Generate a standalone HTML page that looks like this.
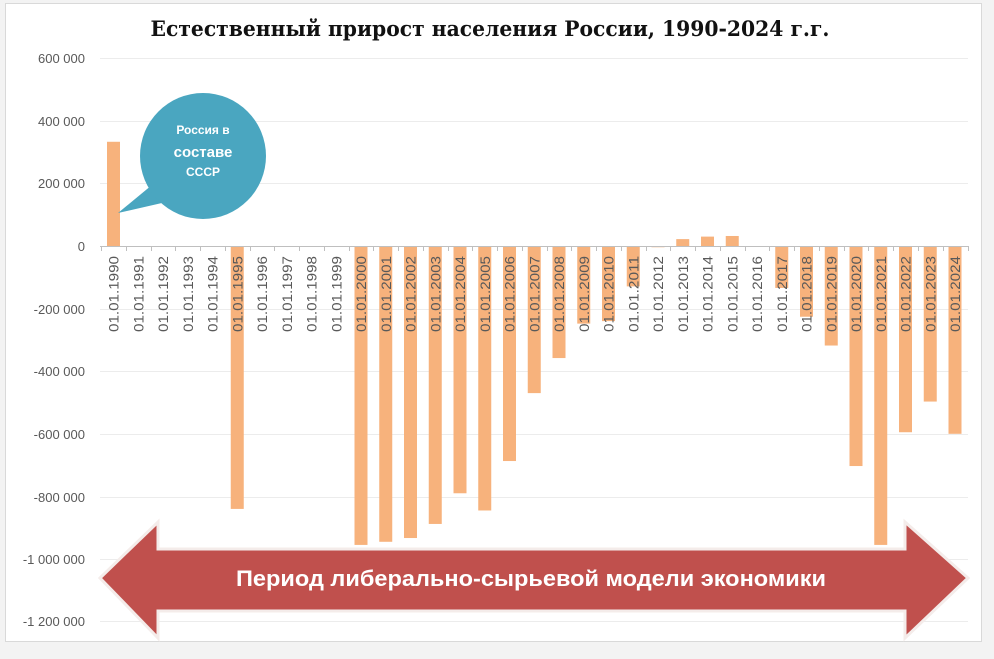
<!DOCTYPE html>
<html><head><meta charset="utf-8"><style>
html,body{margin:0;padding:0;background:#f3f3f3;}
svg{display:block;}
</style></head><body>
<svg width="994" height="659" viewBox="0 0 994 659" xmlns="http://www.w3.org/2000/svg">
<rect x="0" y="0" width="994" height="659" fill="#f3f3f3"/>
<rect x="5.5" y="3.5" width="976" height="638" fill="#fff" stroke="#d9d9d9"/>
<text x="490" y="36" text-anchor="middle" font-family="DejaVu Serif, Liberation Serif, serif" font-weight="bold" font-size="21" fill="#111" textLength="679" lengthAdjust="spacingAndGlyphs">Естественный прирост населения России, 1990-2024 г.г.</text>
<g stroke="#ececec" stroke-width="1">
<line x1="100" x2="968" y1="58.5" y2="58.5"/>
<line x1="100" x2="968" y1="121.5" y2="121.5"/>
<line x1="100" x2="968" y1="183.5" y2="183.5"/>
<line x1="100" x2="968" y1="309.5" y2="309.5"/>
<line x1="100" x2="968" y1="371.5" y2="371.5"/>
<line x1="100" x2="968" y1="434.5" y2="434.5"/>
<line x1="100" x2="968" y1="497.5" y2="497.5"/>
<line x1="100" x2="968" y1="559.5" y2="559.5"/>
<line x1="100" x2="968" y1="621.5" y2="621.5"/>
</g>
<g font-family="Liberation Sans, DejaVu Sans, sans-serif" font-size="13" fill="#595959" text-anchor="end">
<text x="85" y="63">600 000</text>
<text x="85" y="126">400 000</text>
<text x="85" y="188">200 000</text>
<text x="85" y="251">0</text>
<text x="85" y="314">-200 000</text>
<text x="85" y="376">-400 000</text>
<text x="85" y="439">-600 000</text>
<text x="85" y="502">-800 000</text>
<text x="85" y="564">-1 000 000</text>
<text x="85" y="626">-1 200 000</text>
</g>
<g fill="#f7b27c" id="bars"></g>
<line x1="100" x2="968" y1="246.5" y2="246.5" stroke="#bfbfbf"/>
<g id="ticks" stroke="#bfbfbf"></g>
<g id="labels" font-family="Liberation Sans, DejaVu Sans, sans-serif" font-size="14" fill="#595959"></g>
<!-- callout -->
<path d="M118 213 L158 180 L175 200 Z" fill="#4aa6c0"/>
<circle cx="203" cy="156" r="63" fill="#4aa6c0"/>
<g font-family="Liberation Sans, DejaVu Sans, sans-serif" font-weight="bold" fill="#fff" text-anchor="middle">
<text x="203" y="134" font-size="12">Россия в</text>
<text x="203" y="157" font-size="15">составе</text>
<text x="203" y="176" font-size="12">СССР</text>
</g>
<!-- arrow -->
<path d="M100 578 L158 522 L158 549 L905 549 L905 522 L968 578 L905 638 L905 611 L158 611 L158 638 Z" fill="#c0504d" stroke="#f4ecea" stroke-width="3" stroke-linejoin="miter"/>
<text x="531" y="586" text-anchor="middle" font-family="Liberation Sans Narrow, Liberation Sans, DejaVu Sans, sans-serif" font-weight="bold" font-size="22" fill="#fff" textLength="590" lengthAdjust="spacingAndGlyphs">Период либерально-сырьевой модели экономики</text>
<script>
var v={1990:333000,1995:-840000,2000:-955000,2001:-945000,2002:-933000,2003:-888000,2004:-790000,2005:-845000,2006:-687000,2007:-470000,2008:-358000,2009:-248000,2010:-240000,2011:-129000,2012:-4000,2013:22000,2014:30000,2015:32000,2016:-2000,2017:-134000,2018:-226000,2019:-318000,2020:-703000,2021:-955000,2022:-595000,2023:-497000,2024:-600000};
var ns="http://www.w3.org/2000/svg",b=document.getElementById('bars'),t=document.getElementById('ticks'),l=document.getElementById('labels');
var s=62.6/200000;
for(var i=0;i<35;i++){var y=1990+i,cx=113.5+i*24.75;
var val=v[y]||0;
if(val){var r=document.createElementNS(ns,'rect');var h=Math.abs(val)*s;r.setAttribute('x',cx-6.5);r.setAttribute('width',13);r.setAttribute('y',val>0?246-h:246);r.setAttribute('height',h);b.appendChild(r);}
var k=document.createElementNS(ns,'line');var tx=Math.round(cx-12.4)+0.5;k.setAttribute('x1',tx);k.setAttribute('x2',tx);k.setAttribute('y1',246);k.setAttribute('y2',251);t.appendChild(k);
var tt=document.createElementNS(ns,'text');tt.setAttribute('transform','translate('+(cx+5)+',256) rotate(-90)');tt.setAttribute('text-anchor','end');tt.setAttribute('textLength','76');tt.setAttribute('lengthAdjust','spacingAndGlyphs');tt.textContent='01.01.'+y;l.appendChild(tt);}
var k2=document.createElementNS(ns,'line');k2.setAttribute('x1',968.5);k2.setAttribute('x2',968.5);k2.setAttribute('y1',246);k2.setAttribute('y2',251);t.appendChild(k2);
</script>
</svg>
</body></html>
